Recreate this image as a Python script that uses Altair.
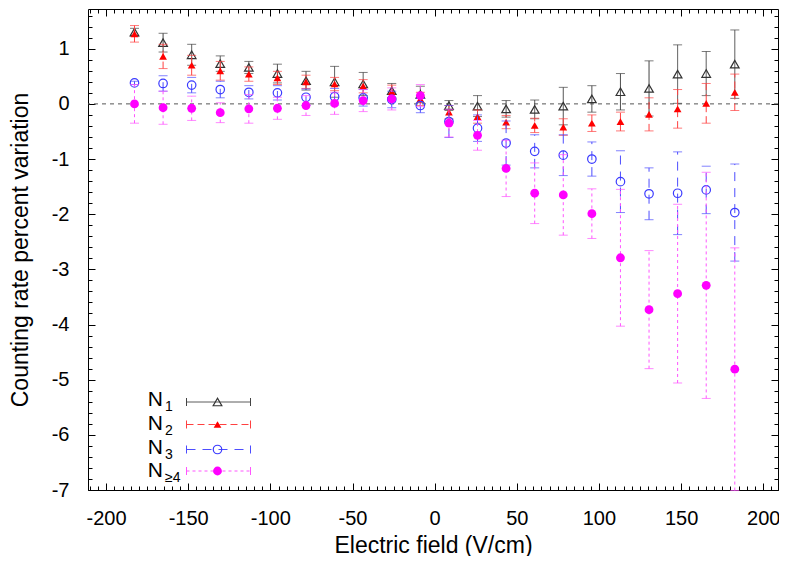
import altair as alt
import pandas as pd

# ---------------- data ----------------
fields = [-182.7, -165.3, -147.9, -130.5, -113.1, -95.7, -78.3, -60.9, -43.5, -26.1, -8.7,
          8.7, 26.1, 43.5, 60.9, 78.3, 95.7, 113.1, 130.5, 147.9, 165.3, 182.7]

n1 = [1.30, 1.11, 0.89, 0.73, 0.66, 0.55, 0.42, 0.40, 0.36, 0.24, 0.17,
      -0.03, -0.04, -0.09, -0.10, -0.04, 0.09, 0.22, 0.28, 0.54, 0.55, 0.72]
n1_err = [0.07, 0.17, 0.19, 0.14, 0.11, 0.17, 0.17, 0.28, 0.21, 0.13, 0.15,
          0.09, 0.19, 0.15, 0.17, 0.34, 0.24, 0.33, 0.50, 0.53, 0.40, 0.62]

n2 = [1.27, 0.86, 0.70, 0.60, 0.54, 0.47, 0.40, 0.36, 0.32, 0.22, 0.09,
      -0.15, -0.23, -0.33, -0.39, -0.42, -0.35, -0.32, -0.19, -0.09, 0.01, 0.21]
n2_err = [0.15, 0.22, 0.18, 0.17, 0.13, 0.12, 0.12, 0.12, 0.12, 0.12, 0.12,
          0.12, 0.12, 0.12, 0.13, 0.15, 0.15, 0.17, 0.30, 0.35, 0.36, 0.33]

n3 = [0.38, 0.37, 0.34, 0.26, 0.21, 0.20, 0.12, 0.13, 0.11, 0.08, -0.03,
      -0.32, -0.44, -0.71, -0.86, -0.93, -1.00, -1.41, -1.63, -1.62, -1.56, -1.97]
n3_err = [0.03, 0.14, 0.14, 0.15, 0.12, 0.13, 0.15, 0.15, 0.15, 0.15, 0.13,
          0.29, 0.24, 0.40, 0.30, 0.37, 0.31, 0.56, 0.47, 0.75, 0.43, 0.88]

n4 = [0.00, -0.07, -0.08, -0.16, -0.09, -0.08, -0.03, 0.01, 0.06, 0.09, 0.15,
      -0.35, -0.57, -1.17, -1.62, -1.65, -1.99, -2.79, -3.73, -3.44, -3.29, -4.81]
n4_err = [0.35, 0.30, 0.22, 0.18, 0.26, 0.20, 0.18, 0.20, 0.20, 0.20, 0.20,
          0.25, 0.27, 0.51, 0.55, 0.73, 0.45, 1.24, 1.07, 1.62, 2.05, 2.20]

series_values = [n1, n2, n3, n4]
series_errors = [n1_err, n2_err, n3_err, n4_err]
series_subs = ["1", "2", "3", "\u22654"]

x_major = [-200, -150, -100, -50, 0, 50, 100, 150, 200]
y_major = [-7, -6, -5, -4, -3, -2, -1, 0, 1]

# ---------------- styling ----------------
FONT = "Liberation Sans"
W, H = 690, 481
styles = [
    dict(mark="#333333", bar="#444444", dash=[1, 0], shape="triangle-up", filled=False, size=75),
    dict(mark="#ff0000", bar="#ff4040", dash=[7, 4], shape="triangle-up", filled=True, size=60),
    dict(mark="#3a3aff", bar="#4d4dff", dash=[9, 7], shape="circle", filled=False, size=72),
    dict(mark="#ff00ff", bar="#ff55ff", dash=[3, 3], shape="circle", filled=True, size=78),
]

xs = alt.Scale(domain=[-211, 209], nice=False, zero=False)
ys = alt.Scale(domain=[-7, 1.72], nice=False, zero=False)

x_minor = [v for v in range(-210, 210, 5)]
y_minor = [round(-7 + 0.2 * i, 1) for i in range(44)]

LABEL_EXPR = "'' + datum.value"


def axis_layer(xaxis, yaxis):
    return alt.Chart(pd.DataFrame({"x": [0.0], "y": [0.0]})).mark_point(opacity=0).encode(
        x=alt.X("x:Q", scale=xs, axis=xaxis),
        y=alt.Y("y:Q", scale=ys, axis=yaxis),
    )


common = dict(domain=False, grid=False, tickColor="black", tickWidth=1)
ax_layers = [
    axis_layer(
        alt.Axis(orient="bottom", values=x_major, tickSize=7, offset=-7, labelPadding=18,
                 labelFont=FONT, labelFontSize=20, labelColor="black", labelExpr=LABEL_EXPR,
                 title="Electric field (V/cm)", titleFont=FONT, titleFontSize=23,
                 titleFontWeight="normal", titleColor="black", titlePadding=6, **common),
        alt.Axis(orient="left", values=y_major, tickSize=7, offset=-7, labelPadding=19,
                 labelFont=FONT, labelFontSize=20, labelColor="black", labelExpr=LABEL_EXPR,
                 title="Counting rate percent variation", titleFont=FONT, titleFontSize=23,
                 titleFontWeight="normal", titleColor="black", titlePadding=19, **common),
    ),
    axis_layer(
        alt.Axis(orient="bottom", values=x_minor, tickSize=4, offset=-4, labels=False, title=None, **common),
        alt.Axis(orient="left", values=y_minor, tickSize=4, offset=-4, labels=False, title=None, **common),
    ),
    axis_layer(
        alt.Axis(orient="top", values=x_major, tickSize=7, offset=-7, labels=False, title=None, **common),
        alt.Axis(orient="right", values=y_major, tickSize=7, offset=-7, labels=False, title=None, **common),
    ),
    axis_layer(
        alt.Axis(orient="top", values=x_minor, tickSize=4, offset=-4, labels=False, title=None, **common),
        alt.Axis(orient="right", values=y_minor, tickSize=4, offset=-4, labels=False, title=None, **common),
    ),
]

zero = alt.Chart(pd.DataFrame({"y": [0.0]})).mark_rule(
    color="#555555", strokeDash=[4, 4], strokeWidth=1
).encode(y=alt.Y("y:Q", scale=ys, axis=None))

data_layers = []
for vals, errs, st in zip(series_values, series_errors, styles):
    df = pd.DataFrame({"field": fields, "value": vals, "err": errs})
    df["lo"] = df["value"] - df["err"]
    df["hi"] = df["value"] + df["err"]
    base = alt.Chart(df)
    X = alt.X("field:Q", scale=xs, axis=None)
    bars = base.mark_rule(color=st["bar"], strokeDash=st["dash"], strokeWidth=1).encode(
        x=X, y=alt.Y("lo:Q", scale=ys, axis=None), y2="hi:Q")
    cap_lo = base.mark_tick(color=st["bar"], orient="horizontal", size=9, thickness=1).encode(
        x=X, y=alt.Y("lo:Q", scale=ys, axis=None))
    cap_hi = base.mark_tick(color=st["bar"], orient="horizontal", size=9, thickness=1).encode(
        x=X, y=alt.Y("hi:Q", scale=ys, axis=None))
    if st["filled"]:
        pts = base.mark_point(shape=st["shape"], filled=True, color=st["mark"], size=st["size"], opacity=1)
    else:
        pts = base.mark_point(shape=st["shape"], filled=False, color=st["mark"], size=st["size"],
                              strokeWidth=1.2, opacity=1)
    pts = pts.encode(x=X, y=alt.Y("value:Q", scale=ys, axis=None))
    data_layers += [bars, cap_lo, cap_hi, pts]

# ---------------- key (inside plot, lower left) ----------------
line_y = [393.0, 415.5, 440.5, 462.0]
n_base = [397.0, 421.0, 445.0, 468.0]
kx1, kx2, kxm = 98.5, 162.5, 129.5
one = pd.DataFrame({"a": [0]})
key_layers = []
for sub, st, ly, nb in zip(series_subs, styles, line_y, n_base):
    key_layers.append(alt.Chart(one).mark_text(
        text="N", align="right", baseline="alphabetic", font=FONT, fontSize=21, color="black"
    ).encode(x=alt.value(75), y=alt.value(nb)))
    key_layers.append(alt.Chart(one).mark_text(
        text=sub, align="left", baseline="alphabetic", font=FONT, fontSize=14, color="black"
    ).encode(x=alt.value(77), y=alt.value(nb + 5)))
    key_layers.append(alt.Chart(one).mark_rule(
        color=st["bar"], strokeDash=st["dash"], strokeWidth=1
    ).encode(x=alt.value(kx1), x2=alt.value(kx2), y=alt.value(ly)))
    for cx in (kx1, kx2):
        key_layers.append(alt.Chart(one).mark_rule(color=st["bar"], strokeWidth=1).encode(
            x=alt.value(cx), y=alt.value(ly - 4), y2=alt.value(ly + 4)))
    if st["filled"]:
        kp = alt.Chart(one).mark_point(shape=st["shape"], filled=True, color=st["mark"], size=st["size"], opacity=1)
    else:
        kp = alt.Chart(one).mark_point(shape=st["shape"], filled=False, color=st["mark"], size=st["size"],
                                       strokeWidth=1.2, opacity=1)
    key_layers.append(kp.encode(x=alt.value(kxm), y=alt.value(ly)))

chart = alt.layer(*ax_layers, zero, *data_layers, *key_layers).resolve_axis(
    x="independent", y="independent"
).properties(
    width=W, height=H,
    autosize=alt.AutoSizeParams(type="none"),
    padding={"left": 80, "top": 1, "right": 1, "bottom": 66},
).configure_view(stroke="black", strokeWidth=1)

chart.save("out.html", embed_options={"renderer": "svg", "actions": False})
